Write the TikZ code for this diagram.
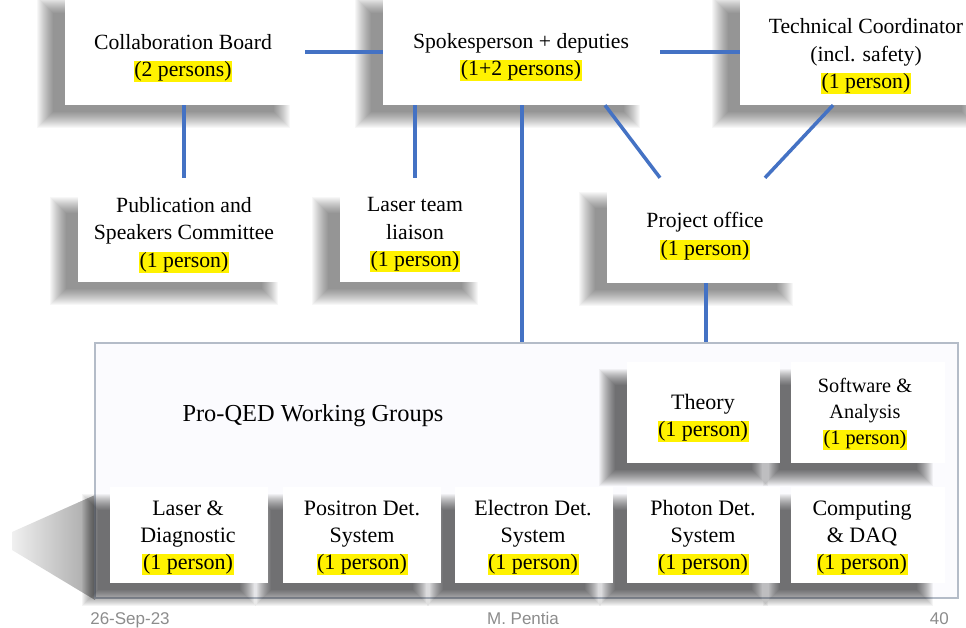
\documentclass[tikz,border=0pt]{standalone}
\usepackage{fontspec}
\setmainfont{Liberation Serif}
\newfontfamily\footfont{Liberation Sans}
\usetikzlibrary{calc}
\definecolor{connblue}{HTML}{4472C4}
\definecolor{wgborder}{HTML}{B4BCC8}
\definecolor{wgfill}{HTML}{FBFBFE}
\definecolor{footgray}{HTML}{8C8C8C}
\setlength{\fboxsep}{0.6pt}
\newcommand{\hlt}[1]{\colorbox{yellow}{#1}}
% soft shadow: box (x1,y1)-(x2,y2) shifted left 20 and down 15, blurred by stacked layers
\newcommand{\softshadow}[5][0.031]{%
  \foreach \d in {-8,-7,...,8}{%
    \fill[black,opacity=#1] ({#2-20+\d},{#3+15+\d}) rectangle ({#4-20-\d},{#5+15-\d});%
  }%
}
\begin{document}
\begin{tikzpicture}[x=1pt,y=-1pt,
  box/.style={rectangle, fill=white, draw=none, inner sep=0pt},
  txt/.style={align=center, inner sep=0pt, font=\fontsize{21.7}{27.5}\selectfont},
  wtxt/.style={align=center, inner sep=0pt, font=\fontsize{22}{27}\selectfont},
  stxt/.style={align=center, inner sep=0pt, font=\fontsize{20.3}{26}\selectfont},
  conn/.style={draw=connblue, line width=3.5pt},
  foot/.style={anchor=base, inner sep=0pt, text=footgray, font=\footfont\fontsize{17}{20}\selectfont}]
\useasboundingbox (0,0) rectangle (966,628);

% perspective shadow of the working-group frame
\shade[left color=black!6, right color=black!35] (12,532) -- (95,495) -- (95,600) -- (12,550) -- cycle;

% top row
\softshadow{65}{-10}{302}{105}
\softshadow{383}{-10}{652}{105}
\softshadow{740}{-10}{990}{105}
\node[box, minimum width=237pt, minimum height=115pt] (cb) at (183.5,47.5) {};
\node[box, minimum width=269pt, minimum height=115pt] (sp) at (517.5,47.5) {};
\node[box, minimum width=250pt, minimum height=115pt] (tc) at (865,47.5) {};
% second row
\softshadow{78}{190}{290}{282}
\softshadow{340}{190}{490}{282}
\softshadow{607}{185}{805}{283}
\node[box, minimum width=212pt, minimum height=92pt] (pub) at (184,236) {};
\node[box, minimum width=150pt, minimum height=92pt] (las) at (415,236) {};
\node[box, minimum width=198pt, minimum height=98pt] (po) at (706,234) {};
% working groups frame
\node[rectangle, draw=wgborder, line width=1.2pt, fill=wgfill, minimum width=863pt, minimum height=255pt, inner sep=0pt] (wg) at (526.5,470.5) {};
\softshadow[0.045]{627}{362}{780}{463}
\softshadow[0.045]{791}{362}{945}{463}
\softshadow[0.045]{110}{487}{268}{583}
\softshadow[0.045]{283}{487}{441}{583}
\softshadow[0.045]{455}{487}{613}{583}
\softshadow[0.045]{627}{487}{780}{583}
\softshadow[0.045]{791}{487}{945}{583}
\node[box, minimum width=153pt, minimum height=101pt] (th) at (703.5,412.5) {};
\node[box, minimum width=154pt, minimum height=101pt] (sw) at (868,412.5) {};
\node[box, minimum width=158pt, minimum height=96pt] (b1) at (189,535) {};
\node[box, minimum width=158pt, minimum height=96pt] (b2) at (362,535) {};
\node[box, minimum width=158pt, minimum height=96pt] (b3) at (534,535) {};
\node[box, minimum width=153pt, minimum height=96pt] (b4) at (703.5,535) {};
\node[box, minimum width=154pt, minimum height=96pt] (b5) at (868,535) {};

% connectors
\coordinate (yl) at (0,52);
\coordinate (wgx) at (522,0);
\draw[conn, shorten <=3pt] (cb.east |- yl) -- (sp.west |- yl);
\draw[conn, shorten <=8pt] (sp.east |- yl) -- (tc.west |- yl);
\draw[conn, shorten >=12pt] (cb.south -| pub.north) -- (pub.north);
\draw[conn, shorten >=12pt] (sp.south -| las.north) -- (las.north);
\draw[conn] (sp.south -| wgx) -- (wg.north -| wgx);
\draw[conn] ($(sp.south)+(87.5,0)$) -- ($(po.north)+(-46,-7)$);
\draw[conn] ($(tc.south)+(-32,0)$) -- ($(po.north)+(59,-7)$);
\draw[conn] (po.south) -- (po.south |- wg.north);

% texts
\node[txt] (cbt) at (183,58) {Collaboration Board\\\hlt{(2 persons)}};
\node[txt] (spt) at (521,57) {Spokesperson + deputies\\\hlt{(1+2 persons)}};
\node[txt] (tct) at (866,56.5) {Technical Coordinator\\(incl. safety)\\\hlt{(1 person)}};
\node[txt] (pubt) at (184,235) {Publication and\\Speakers Committee\\\hlt{(1 person)}};
\node[txt] (last) at (415,235) {Laser team\\liaison\\\hlt{(1 person)}};
\node[txt] (pot) at (705,236.5) {Project office\\\hlt{(1 person)}};
\node[inner sep=0pt, font=\fontsize{24.4}{28}\selectfont] (wgt) at (313,416) {Pro-QED Working Groups};
\node[wtxt] (tht) at (703,418.5) {Theory\\\hlt{(1 person)}};
\node[stxt] (swt) at (865,414) {Software \&\\Analysis\\\hlt{(1 person)}};
\node[wtxt] (b1t) at (188,538) {Laser \&\\Diagnostic\\\hlt{(1 person)}};
\node[wtxt] (b2t) at (362,538) {Positron Det.\\System\\\hlt{(1 person)}};
\node[wtxt] (b3t) at (533,538) {Electron Det.\\System\\\hlt{(1 person)}};
\node[wtxt] (b4t) at (703,538) {Photon Det.\\System\\\hlt{(1 person)}};
\node[wtxt] (b5t) at (862,538) {Computing\\\& DAQ\\\hlt{(1 person)}};

% footer
\node[foot] (fdate) at (130,624) {26-Sep-23};
\node[foot] (fauth) at (523,624) {M. Pentia};
\node[foot, anchor=base east] (fpage) at (949,624) {40};
\end{tikzpicture}
\end{document}
